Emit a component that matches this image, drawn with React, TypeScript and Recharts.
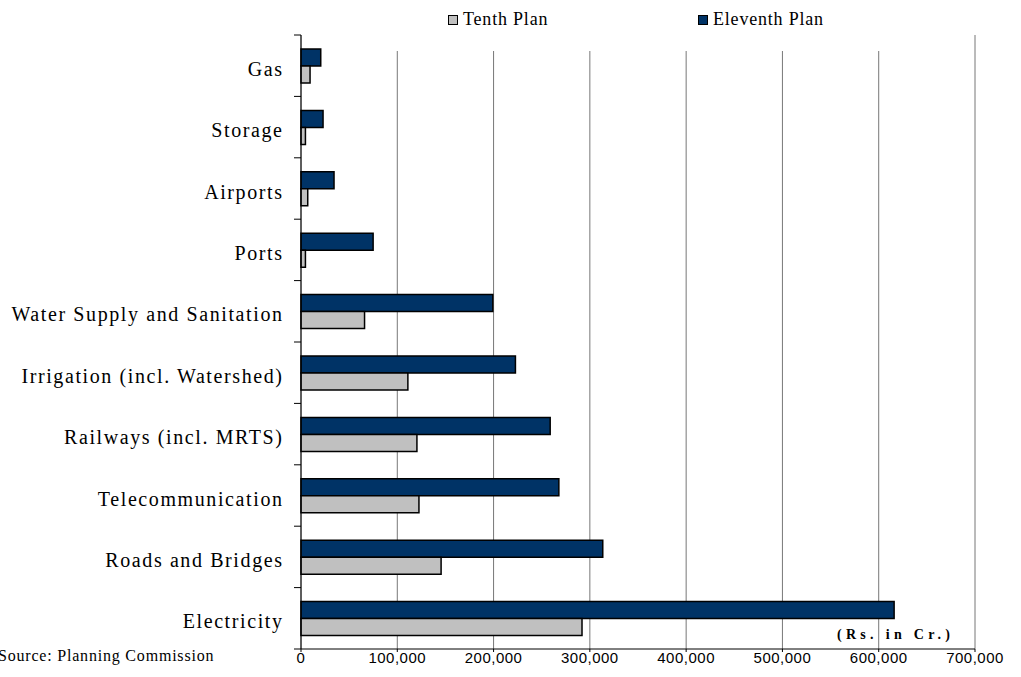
import React from 'react';
import { BarChart, Bar, XAxis, YAxis, CartesianGrid, Legend } from 'recharts';

const categories = [
  'Gas',
  'Storage',
  'Airports',
  'Ports',
  'Water Supply and Sanitation',
  'Irrigation (incl. Watershed)',
  'Railways (incl. MRTS)',
  'Telecommunication',
  'Roads and Bridges',
  'Electricity',
];
const tenthPlan = [9400, 4600, 7000, 4600, 66000, 111000, 120400, 122500, 145500, 291850];
const eleventhPlan = [20500, 22900, 34300, 74900, 199200, 222700, 258800, 267800, 313400, 616000];
const xTicks = [0, 100000, 200000, 300000, 400000, 500000, 600000, 700000];
const legendOrder = ['Tenth Plan', 'Eleventh Plan'];
const unitNote = '(Rs. in Cr.)';
const sourceNote = 'Source: Planning Commission';

const data = categories.map((name, i) => ({
  name,
  tenth: tenthPlan[i],
  eleventh: eleventhPlan[i],
}));

const SERIF = 'Liberation Serif, Times New Roman, serif';
const SANS = 'Liberation Sans, Arial, sans-serif';

const CategoryTick = (props: any) => {
  const { x, y, payload, index, visibleTicksCount, height } = props;
  const band = (height || 0) / (visibleTicksCount || 1);
  const lx1 = x + 12;
  const lx2 = x + 19;
  return (
    <g>
      <line x1={lx1} x2={lx2} y1={y - band / 2} y2={y - band / 2} stroke="#000" strokeWidth={1} />
      {index === visibleTicksCount - 1 && (
        <line x1={lx1} x2={lx2} y1={y + band / 2} y2={y + band / 2} stroke="#000" strokeWidth={1} />
      )}
      <text
        x={x + 1.6}
        y={y}
        dy={10}
        textAnchor="end"
        fill="#000"
        fontFamily={SERIF}
        fontSize={20}
        letterSpacing={1.6}
      >
        {payload.value}
      </text>
    </g>
  );
};

const LegendContent = (props: any) => {
  const payload = [...(props.payload || [])].sort(
    (a: any, b: any) => legendOrder.indexOf(a.value) - legendOrder.indexOf(b.value)
  );
  return (
    <div style={{ position: 'relative', width: 1021, height: 51 }}>
      <div style={{ position: 'absolute', left: 330, top: 35, width: 620, height: 16, background: '#fff' }} />
      {payload.map((p: any, i: number) => (
        <div
          key={p.value}
          style={{
            position: 'absolute',
            left: 448 + i * 250,
            top: 8,
            display: 'flex',
            alignItems: 'center',
            whiteSpace: 'nowrap',
          }}
        >
          <span
            style={{
              display: 'inline-block',
              width: 8,
              height: 8,
              background: p.color,
              border: '1.5px solid #000',
              marginRight: 5,
              marginTop: 2,
            }}
          />
          <span style={{ fontFamily: SERIF, fontSize: 18, letterSpacing: 0.8, color: '#000', lineHeight: '22px' }}>
            {p.value}
          </span>
        </div>
      ))}
    </div>
  );
};

export default function App() {
  return (
    <div style={{ position: 'absolute', left: 0, top: 0, width: 1021, height: 677, background: '#fff', overflow: 'hidden' }}>
      <BarChart
        width={1021}
        height={677}
        data={data}
        layout="vertical"
        margin={{ top: 35, right: 46, bottom: 0, left: 0 }}
        barSize={17}
        barGap={0}
      >
        <CartesianGrid horizontal={false} vertical={true} stroke="#777" strokeWidth={1} />
        <XAxis
          type="number"
          domain={[0, 700000]}
          ticks={xTicks}
          interval={0}
          height={28}
          axisLine={{ stroke: '#000', strokeWidth: 1 }}
          tickLine={{ stroke: '#000' }}
          tickSize={3}
          tickMargin={0}
          tickFormatter={(v: number) => v.toLocaleString('en-US')}
          tick={{ fill: '#000', fontFamily: SANS, fontSize: 15, letterSpacing: 0.5 }}
        />
        <YAxis
          type="category"
          dataKey="name"
          width={301}
          interval={0}
          axisLine={{ stroke: '#000', strokeWidth: 1 }}
          tickLine={false}
          tickSize={7}
          tickMargin={12}
          tick={<CategoryTick />}
        />
        <Legend
          layout="horizontal"
          verticalAlign="middle"
          align="center"
          wrapperStyle={{ top: 0, left: 0, width: 1021, height: 51 }}
          content={<LegendContent />}
        />
        <Bar dataKey="eleventh" name="Eleventh Plan" fill="#003366" stroke="#000" strokeWidth={1.5} isAnimationActive={false} />
        <Bar dataKey="tenth" name="Tenth Plan" fill="#c0c0c0" stroke="#000" strokeWidth={1.5} isAnimationActive={false} />
      </BarChart>
      <svg width={1021} height={677} style={{ position: 'absolute', left: 0, top: 0, pointerEvents: 'none' }}>
        <text x={837} y={639} fill="#000" fontFamily={SERIF} fontSize={14} fontWeight="bold" letterSpacing={4.3}>
          {unitNote}
        </text>
        <text x={-2} y={661} fill="#000" fontFamily={SERIF} fontSize={16} letterSpacing={0.8}>
          {sourceNote}
        </text>
      </svg>
    </div>
  );
}
